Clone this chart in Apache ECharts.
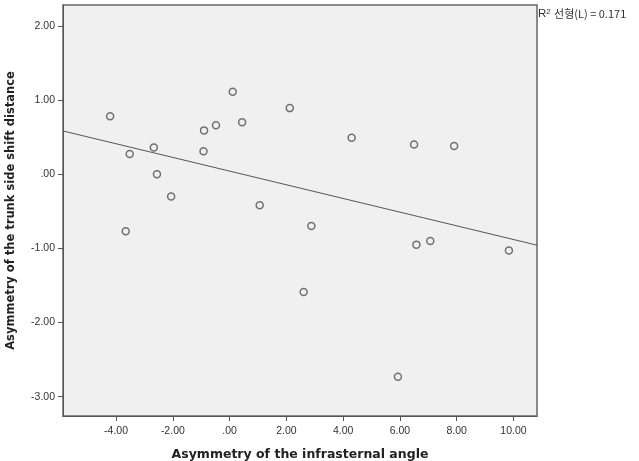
<!DOCTYPE html>
<html><head><meta charset="utf-8">
<script src="https://cdn.jsdelivr.net/npm/echarts@6/dist/echarts.min.js"></script>
<style>html,body{margin:0;padding:0;background:#fff}#c{width:639px;height:461px}</style>
</head><body><div id="c"></div>
<script>
// Data
const xValues = [-4.21,-3.52,-3.66,-2.67,-2.56,-2.06,-0.92,-0.90,-0.48,0.11,0.44,1.06,2.12,4.30,6.50,7.91,2.88,6.58,7.07,9.84,2.61,5.93];
const yValues = [0.78,0.27,-0.77,0.36,0.00,-0.30,0.31,0.59,0.66,1.11,0.70,-0.42,0.89,0.49,0.40,0.38,-0.70,-0.95,-0.90,-1.03,-1.59,-2.73];
const xTicks = [-4,-2,0,2,4,6,8,10];
const yTicks = [-3,-2,-1,0,1,2];
const xTitle = 'Asymmetry of the infrasternal angle';
const yTitle = 'Asymmetry of the trunk side shift distance';
const fitLabel = '선형(L) = 0.171';

const xMin = -5.87, xMax = 10.83, yMin = -3.26, yMax = 2.28;

// least squares fit
const n = xValues.length;
const mx = xValues.reduce((a,b)=>a+b,0)/n, my = yValues.reduce((a,b)=>a+b,0)/n;
let sxy=0, sxx=0;
for(let i=0;i<n;i++){sxy+=(xValues[i]-mx)*(yValues[i]-my);sxx+=(xValues[i]-mx)**2;}
const slope = sxy/sxx, icpt = my - slope*mx;
const fitData = [[xMin, icpt+slope*xMin],[xMax, icpt+slope*xMax]];

const fmt = v => { let s = Number(v).toFixed(2); return s.replace(/^(-?)0\./,'$1.'); };
const pts = xValues.map((x,i)=>[x,yValues[i]]);

const chart = echarts.init(document.getElementById('c'), null, {renderer:'canvas'});
chart.setOption({
  animation:false,
  backgroundColor:'#fff',
  grid:{left:63,top:5,right:102,bottom:45,show:true,backgroundColor:'#f0f0f0',borderColor:'#666',borderWidth:1.5,
        containLabel:false,outerBoundsMode:'none'},
  xAxis:{type:'value',min:xMin,max:xMax,
    axisLine:{show:true,onZero:false,lineStyle:{color:'#555'}},
    axisTick:{show:true,length:5,customValues:xTicks,lineStyle:{color:'#555'}},
    axisLabel:{customValues:xTicks,formatter:fmt,color:'#333',fontSize:10.5,fontFamily:'Liberation Sans',margin:10},
    splitLine:{show:false},
    name:xTitle,nameLocation:'middle',nameGap:32,
    nameTextStyle:{fontSize:12.5,fontWeight:'bold',color:'#222',fontFamily:'DejaVu Sans'}},
  yAxis:{type:'value',min:yMin,max:yMax,
    axisLine:{show:true,onZero:false,lineStyle:{color:'#555'}},
    axisTick:{show:true,length:5,customValues:yTicks,lineStyle:{color:'#555'}},
    axisLabel:{customValues:yTicks,formatter:fmt,color:'#333',fontSize:10.5,fontFamily:'Liberation Sans',margin:8},
    splitLine:{show:false},
    name:yTitle,nameLocation:'middle',nameGap:46,
    nameTextStyle:{fontSize:11.5,fontWeight:'bold',color:'#222',fontFamily:'DejaVu Sans'}},
  series:[
    {type:'scatter',data:pts,symbol:'circle',symbolSize:7,
     itemStyle:{color:'rgba(0,0,0,0)',borderColor:'#505050',borderWidth:1.5},z:3},
    {type:'line',data:fitData,showSymbol:false,symbol:'none',
     lineStyle:{color:'#555',width:1},z:2}
  ],
  graphic:[{type:'text',left:538,top:8,
    style:{rich:{r:{fontSize:11.5,fontFamily:'Liberation Sans',fill:'#333'},s:{fontSize:8,fontFamily:'Liberation Sans',fill:'#333',verticalAlign:'top'},t:{fontSize:11,fontFamily:'Noto Sans CJK KR',fill:'#333'}},
      text:'{r|R}{s|2} {t|'+fitLabel+'}'}}]
});
</script></body></html>
